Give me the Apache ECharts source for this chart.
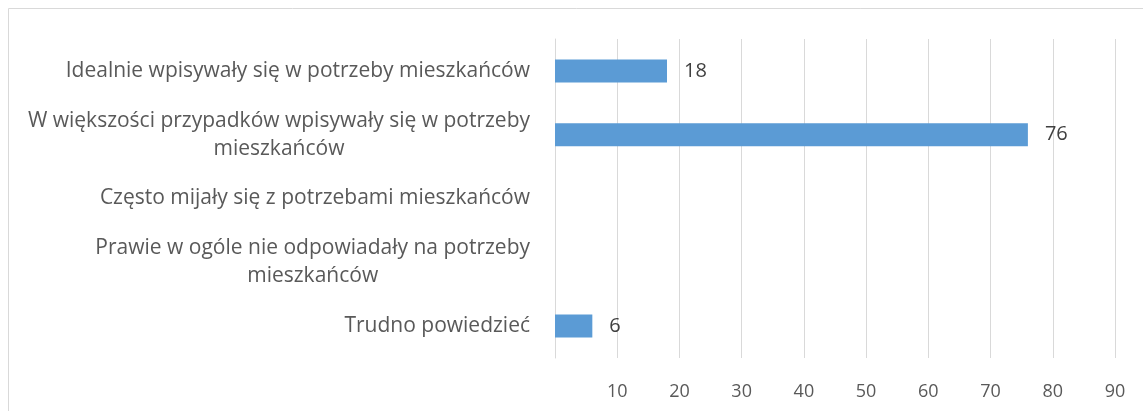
<!DOCTYPE html>
<html><head><meta charset="utf-8">
<script src="https://cdn.jsdelivr.net/npm/echarts@6/dist/echarts.min.js"></script>
<style>html,body{margin:0;padding:0;background:#fff}#c{width:1143px;height:411px}</style>
</head><body><div id="c"></div>
<script>
const categories = [
  'Idealnie wpisywały się w potrzeby mieszkańców',
  'W większości przypadków wpisywały się w potrzeby\nmieszkańców',
  'Często mijały się z potrzebami mieszkańców',
  'Prawie w ogóle nie odpowiadały na potrzeby\nmieszkańców',
  'Trudno powiedzieć'
];
const values = [18, 76, null, null, 6];
const axisMin = 0, axisMax = 90, axisStep = 10;

const chart = echarts.init(document.getElementById('c'), null, {renderer: 'canvas'});
const font = '"Open Sans", "Liberation Sans", sans-serif';
chart.setOption({
  animation: false,
  graphic: [{type: 'rect', shape: {x: 8.5, y: 8.5, width: 1200, height: 420}, style: {fill: 'none', stroke: '#d9d9d9', lineWidth: 1}}],
  grid: {left: 555, right: 28, top: 39, bottom: 53, containLabel: false},
  xAxis: {
    type: 'value', min: axisMin, max: axisMax, interval: axisStep,
    axisLine: {show: false}, axisTick: {show: false},
    splitLine: {lineStyle: {color: '#d9d9d9', width: 1}},
    axisLabel: {color: '#595959', fontFamily: font, fontSize: 18, margin: 25,
      formatter: v => v === 0 ? '' : String(v)}
  },
  yAxis: {
    type: 'category', inverse: true, data: categories,
    axisLine: {show: true, lineStyle: {color: '#d9d9d9'}}, axisTick: {show: false},
    axisLabel: {margin: 25, color: '#595959', fontFamily: font, fontSize: 21, lineHeight: 28,
      formatter: v => v.split('\n').map(l => '{c|' + l + '}').join('\n'),
      rich: {c: {align: 'center', color: '#595959', fontFamily: font, fontSize: 21, lineHeight: 28}}}
  },
  series: [{
    type: 'bar', data: values, barWidth: '36%',
    itemStyle: {color: '#5B9BD5'},
    label: {show: true, position: 'right', distance: 17, color: '#404040', fontFamily: font, fontSize: 20}
  }]
});
</script></body></html>
